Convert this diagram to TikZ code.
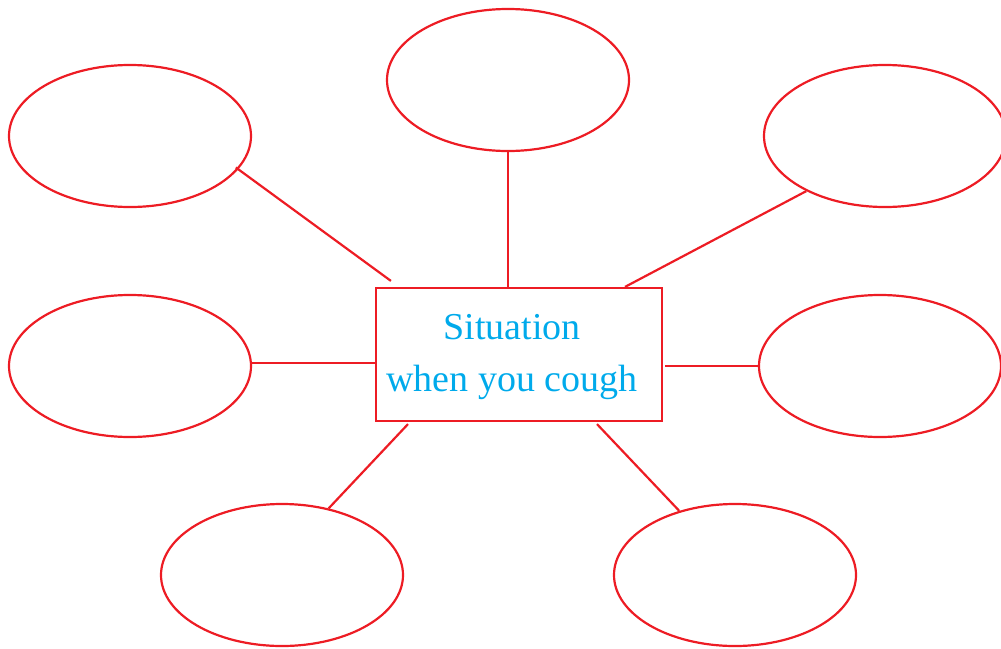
\documentclass[tikz,border=0pt]{standalone}
\usepackage{fontspec}
\setmainfont{Liberation Serif}
\usetikzlibrary{positioning,calc,shapes.geometric}
\definecolor{linered}{RGB}{237,28,36}
\definecolor{textcyan}{RGB}{0,170,235}

\begin{document}
\begin{tikzpicture}[x = 1pt, y = -1pt,
  bubble/.style = {ellipse, draw = linered, line width = 2.2pt, inner sep = 0,
    minimum width = 242pt, minimum height = 142pt},
  link/.style = {draw = linered, line width = 2.2pt}
]
\useasboundingbox (0,0) rectangle (1001,648);

% answer bubbles
\node[bubble] (tl) at (130,136) {};
\node[bubble] (top) at (508,80) {};
\node[bubble] (tr) at (885,136) {};
\node[bubble] (ml) at (130,366) {};
\node[bubble] (mr) at (880,366) {};
\node[bubble] (bl) at (282,575) {};
\node[bubble] (br) at (735,575) {};

% centre box
\node[draw = linered, line width = 2.2pt, inner sep = 0,
  minimum width = 286pt, minimum height = 133pt] (box) at (519,354.5) {};
\node[text = textcyan, align = center, inner sep = 0,
  font = \fontsize{38}{52}\selectfont] (situation) at (512,357)
  {Situation\\when you cough};

% spokes
\draw[link] ($(tl.-16)+(-4,0)$) -- ($(box.north west)+(16,-6)$);
\draw[link] (top.south) -- (top.south |- box.north);
\draw[link] (tr.215) -- ($(box.north)+(106,0)$);
\draw[link] ($(ml.east)+(0,-3)$) -- ($(ml.east -| box.west)+(0,-3)$);
\draw[link] (mr.west) -- ($(mr.west -| box.east)+(2,0)$);
\draw[link] (bl.55) -- ($(box.south)+(-111,2)$);
\draw[link] (br.131) -- ($(box.south)+(78,2)$);
\end{tikzpicture}
\end{document}
